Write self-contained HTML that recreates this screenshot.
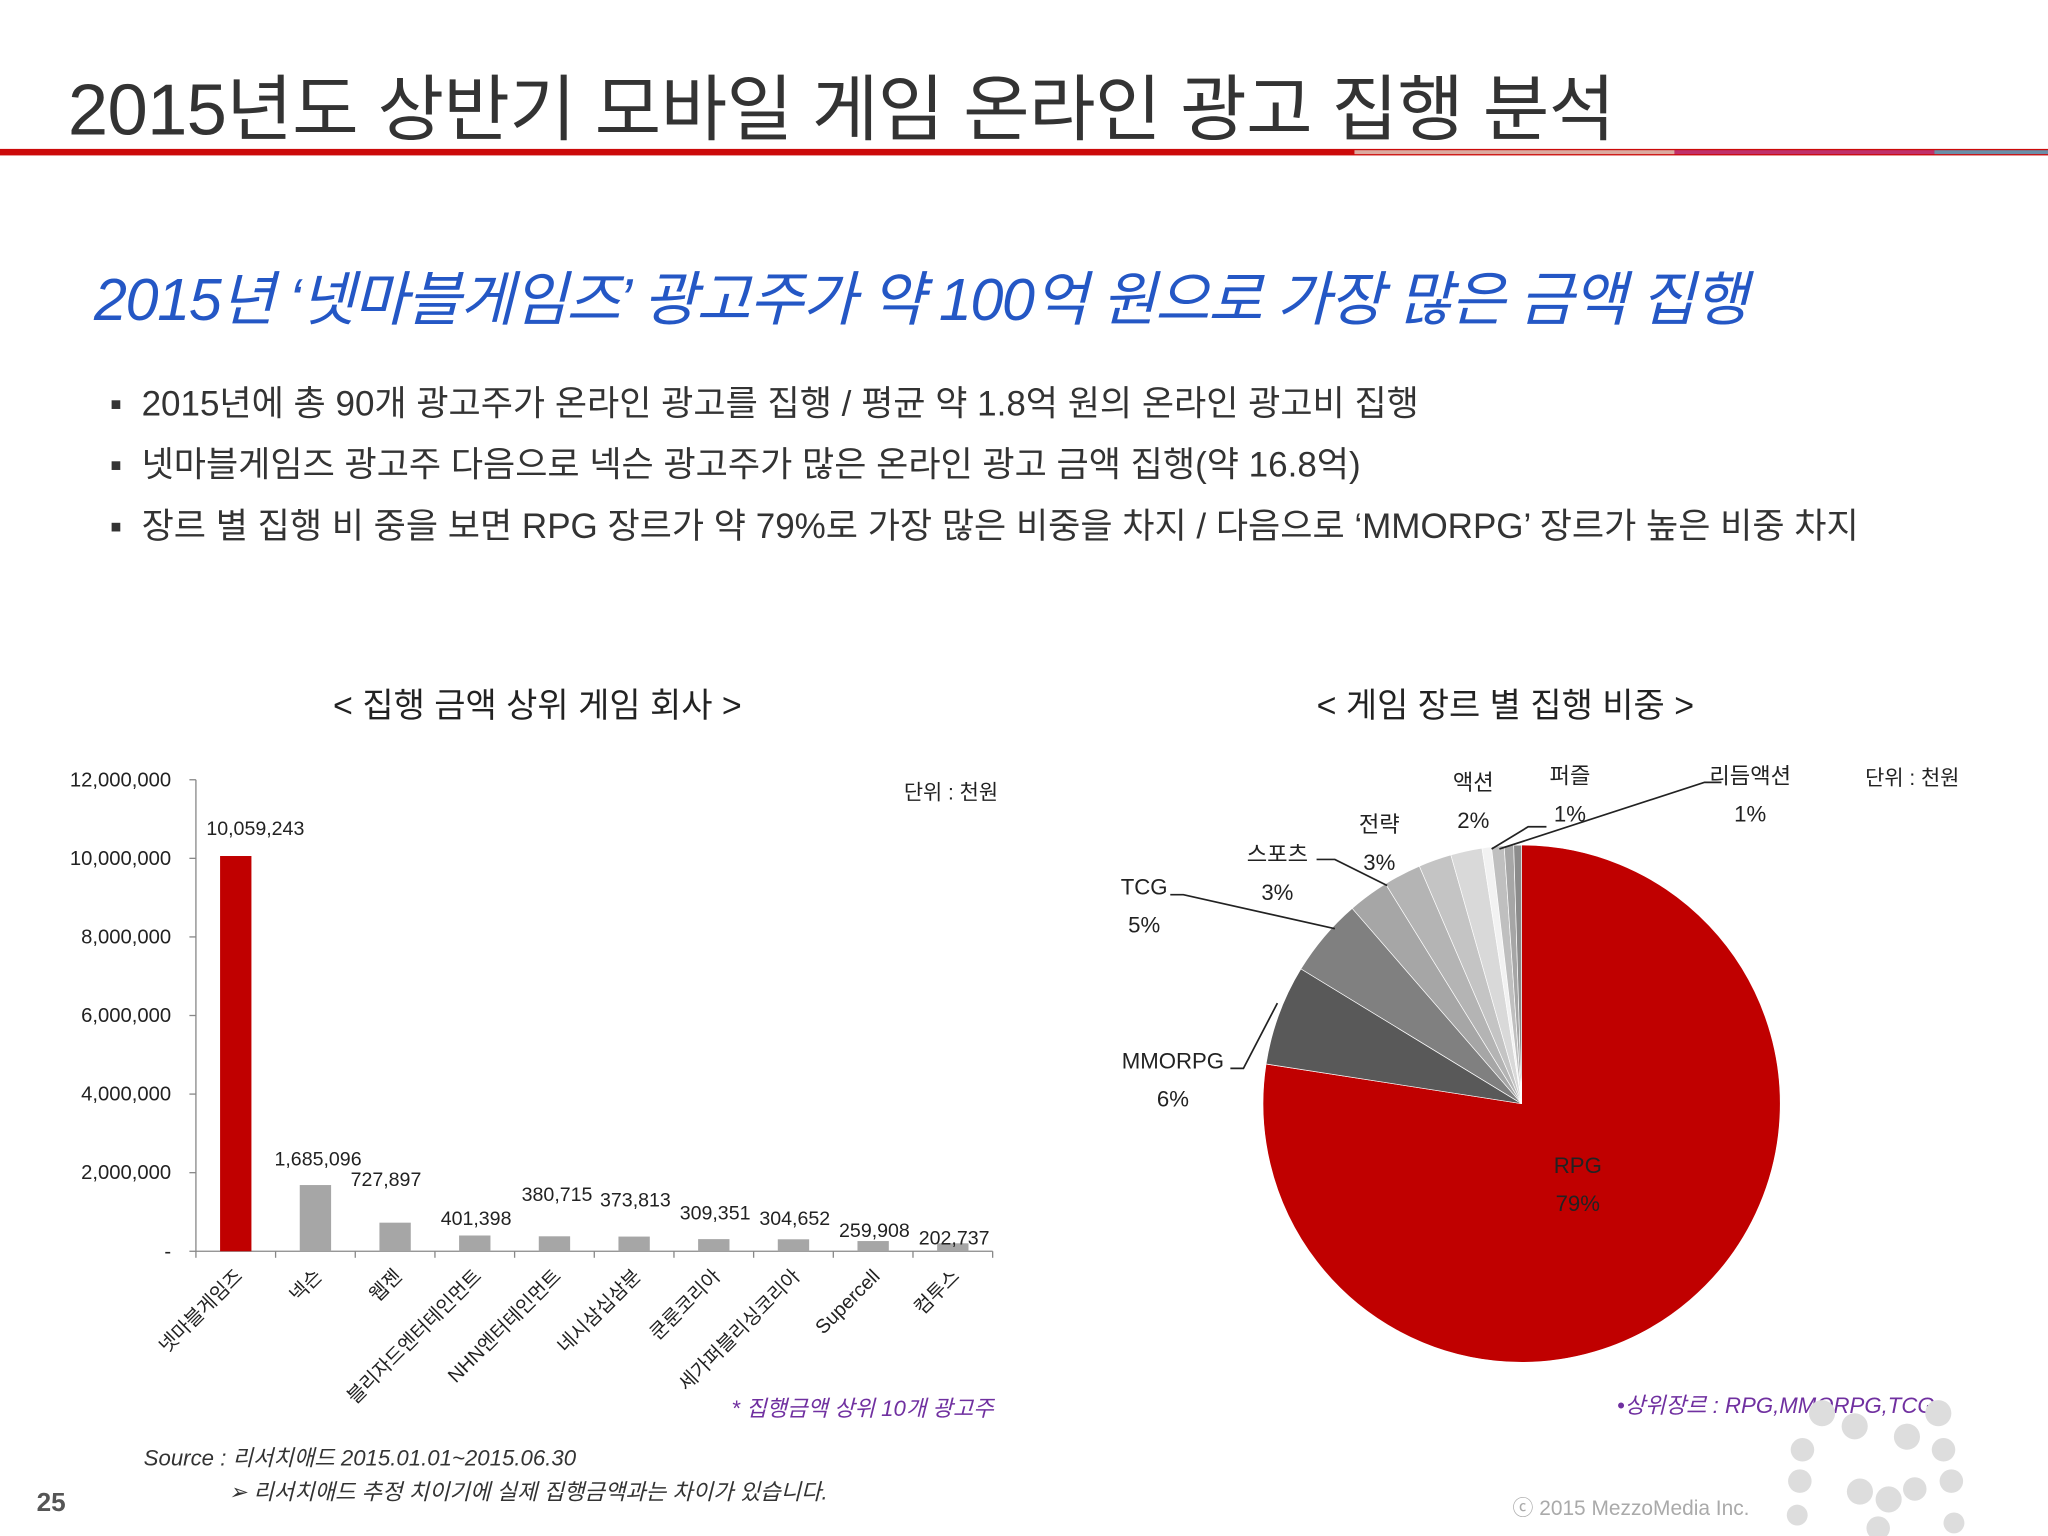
<!DOCTYPE html>
<html><head><meta charset="utf-8">
<style>
html,body{margin:0;padding:0;background:#fff;width:2048px;height:1536px;overflow:hidden}
#wrap{position:absolute;left:0;top:0;width:1568px;height:1176px;transform:scale(1.306122);transform-origin:0 0;font-family:"Liberation Sans","Noto Sans CJK KR",sans-serif;color:#222}
.abs{position:absolute;white-space:nowrap}
</style></head><body>
<div id="wrap">
<div class="abs" style="left:52px;top:39px;font-size:55.4px;color:#333;letter-spacing:-0.5px">2015년도 상반기 모바일 게임 온라인 광고 집행 분석</div>
<div class="abs" style="left:0;top:114px;width:1568px;height:5px;background:#cc0a0a"></div>
<div class="abs" style="left:1037px;top:115px;width:245px;height:3px;background:#dcaaa0"></div>
<div class="abs" style="left:1282px;top:115px;width:199px;height:3px;background:#c0306a"></div>
<div class="abs" style="left:1481px;top:115px;width:87px;height:3px;background:#6a8fa8"></div>
<div class="abs" style="left:72px;top:193px;font-size:45.3px;font-style:italic;color:#2457c5;letter-spacing:-1px">2015년 ‘넷마블게임즈’ 광고주가 약 100억 원으로 가장 많은 금액 집행</div>
<div class="abs" style="left:84px;top:287px;font-size:26.8px;color:#333">▪&nbsp; 2015년에 총 90개 광고주가 온라인 광고를 집행 / 평균 약 1.8억 원의 온라인 광고비 집행</div>
<div class="abs" style="left:84px;top:334px;font-size:26.8px;color:#333">▪&nbsp; 넷마블게임즈 광고주 다음으로 넥슨 광고주가 많은 온라인 광고 금액 집행(약 16.8억)</div>
<div class="abs" style="left:84px;top:381px;font-size:26.8px;color:#333">▪&nbsp; 장르 별 집행 비 중을 보면 RPG 장르가 약 79%로 가장 많은 비중을 차지 / 다음으로 ‘MMORPG’ 장르가 높은 비중 차지</div>
<div class="abs" style="left:255px;top:520px;font-size:26px">&lt; 집행 금액 상위 게임 회사 &gt;</div>
<div class="abs" style="left:1008px;top:520px;font-size:26px">&lt; 게임 장르 별 집행 비중 &gt;</div>
<svg id="bar" class="abs" style="left:0;top:0" width="800" height="1176"></svg>
<svg id="pie" class="abs" style="left:800px;top:0" width="768" height="1176"></svg>
<div class="abs" style="left:560px;top:1064px;font-size:17px;font-style:italic;color:#7030a0">* 집행금액 상위 10개 광고주</div>
<div class="abs" style="left:1238px;top:1062px;font-size:17px;font-style:italic;color:#7030a0">•상위장르 : RPG,MMORPG,TCG</div>
<div class="abs" style="left:110px;top:1102px;font-size:17px;font-style:italic;color:#333">Source : 리서치애드 2015.01.01~2015.06.30</div>
<div class="abs" style="left:175px;top:1128px;font-size:17px;font-style:italic;color:#333">➢ 리서치애드 추정 치이기에 실제 집행금액과는 차이가 있습니다.</div>
<div class="abs" style="left:28px;top:1140px;font-size:20px;font-weight:bold;color:#555">25</div>
<div class="abs" style="left:1158px;top:1141px;font-size:16px;color:#aaa">ⓒ 2015 MezzoMedia Inc.</div>
<svg class="abs" style="left:1360px;top:1070px" width="208" height="106">
<g fill="#ddd"><circle cx="35" cy="12" r="10"/><circle cx="60" cy="22" r="10"/><circle cx="20" cy="40" r="9"/><circle cx="100" cy="30" r="10"/><circle cx="124" cy="12" r="10"/><circle cx="128" cy="40" r="9"/><circle cx="18" cy="64" r="9"/><circle cx="64" cy="72" r="10"/><circle cx="86" cy="78" r="10"/><circle cx="134" cy="64" r="9"/><circle cx="106" cy="70" r="9"/><circle cx="16" cy="90" r="8"/><circle cx="78" cy="100" r="9"/><circle cx="136" cy="96" r="8"/></g></svg>
</div>
<script>
const companies=["넷마블게임즈","넥슨","웹젠","블리자드엔터테인먼트","NHN엔터테인먼트","네시삼십삼분","쿤룬코리아","세가퍼블리싱코리아","Supercell","컴투스"];
const amounts=[10059243,1685096,727897,401398,380715,373813,309351,304652,259908,202737];
const yTicks=[0,2000000,4000000,6000000,8000000,10000000,12000000];
const genres=["RPG","MMORPG","TCG","스포츠","전략","기타1","액션","기타2","퍼즐","리듬액션","기타3"];
const shares=[79.0,6.4,5.0,2.6,2.4,2.1,2.0,0.6,0.8,0.6,0.5];
const NS="http://www.w3.org/2000/svg";
function mk(p,t,a){const e=document.createElementNS(NS,t);for(const k in a)e.setAttribute(k,a[k]);p.appendChild(e);return e;}
const fmt=v=>v.toLocaleString('en-US');
// bar chart
const bar=document.getElementById('bar');
const x0=150,x1=760,yb=958,yt=597,ymax=12000000;
const ys=v=>yb-(v/ymax)*(yb-yt);
const step=(x1-x0)/companies.length;
const xc=i=>x0+step*(i+0.5);
const ax=mk(bar,'line',{x1:x0,y1:yt,x2:x0,y2:yb,stroke:'#888','stroke-width':1});

const bx=mk(bar,'line',{x1:x0,y1:yb,x2:x1,y2:yb,stroke:'#888','stroke-width':1});

yTicks.forEach(v=>{
  mk(bar,'line',{x1:x0-5,y1:ys(v),x2:x0,y2:ys(v),stroke:'#888'});
  const t=mk(bar,'text',{x:x0-19,y:ys(v)+5,'text-anchor':'end','font-size':15.5,fill:'#222'});
  t.textContent=v===0?'-':fmt(v);
  
});
for(let i=0;i<=companies.length;i++)mk(bar,'line',{x1:x0+step*i,y1:yb,x2:x0+step*i,y2:yb+5,stroke:'#888'});
const lblOff=[[15,-16],[2,-15],[-7,-28],[1,-8],[2,-27],[1,-23],[1,-15],[1,-11],[1,-3],[1,1]];
companies.forEach((c,i)=>{
  const r=mk(bar,'rect',{x:xc(i)-12,y:ys(amounts[i]),width:24,height:yb-ys(amounts[i]),fill:i===0?'#c00000':'#a6a6a6'});
  
  const v=mk(bar,'text',{x:xc(i)+lblOff[i][0],y:ys(amounts[i])+lblOff[i][1],'text-anchor':'middle','font-size':15,fill:'#222'});
  v.textContent=fmt(amounts[i]);
  
  const l=mk(bar,'text',{x:xc(i)+6,y:yb+20,'text-anchor':'end','font-size':15,fill:'#222',transform:`rotate(-45 ${xc(i)+6} ${yb+20})`});
  l.textContent=c;
  
});
const u=mk(bar,'text',{x:692,y:612,'font-size':16,fill:'#222'});u.textContent='단위 : 천원';

// pie
const pie=document.getElementById('pie');
const cx=365,cy=845,R=198;
const cols=['#c00000','#595959','#808080','#a6a6a6','#b4b4b4','#c4c4c4','#d9d9d9','#f2f2f2','#bfbfbf','#a6a6a6','#8c8c8c'];
const tot=shares.reduce((a,b)=>a+b,0);
let acc=0;
const pt=a=>[cx+R*Math.sin(a),cy-R*Math.cos(a)];
shares.forEach((s,i)=>{
  const a0=acc/tot*2*Math.PI;acc+=s;const a1=acc/tot*2*Math.PI;
  const p0=pt(a0),p1=pt(a1);
  const e=mk(pie,'path',{d:`M${cx},${cy}L${p0[0]},${p0[1]}A${R},${R} 0 ${a1-a0>Math.PI?1:0} 1 ${p1[0]},${p1[1]}Z`,fill:cols[i],stroke:'#fff','stroke-width':0.5});
  
});
const L=[["RPG","79%",408,898,"#222",'middle'],["MMORPG","6%",98,818,"#222",'middle'],["TCG","5%",76,685,"#222",'middle'],["스포츠","3%",178,660,"#222",'middle'],["전략","3%",256,637,"#222",'middle'],["액션","2%",328,605,"#222",'middle'],["퍼즐","1%",402,600,"#222",'middle'],["리듬액션","1%",540,600,"#222",'middle']];
L.forEach(o=>{
  const t=mk(pie,'text',{x:o[2],y:o[3],'text-anchor':o[5],'font-size':17,fill:o[4]});t.textContent=o[0];
  
  const p=mk(pie,'text',{x:o[2],y:o[3]+29,'text-anchor':o[5],'font-size':17,fill:o[4]});p.textContent=o[1];
  
});
const leaders=["M142,818 L152,818 L178,768","M96,685 L106,685 L222,711","M208,658 L222,658 L262,678","M342,650 L370,633 L384,633","M348,650 L505,599 L518,599"];
leaders.forEach(d=>{const e=mk(pie,'path',{d:d,fill:'none',stroke:'#222','stroke-width':1.3});});
const u2=mk(pie,'text',{x:628,y:601,'font-size':16,fill:'#222'});u2.textContent='단위 : 천원';

</script>
</body></html>
